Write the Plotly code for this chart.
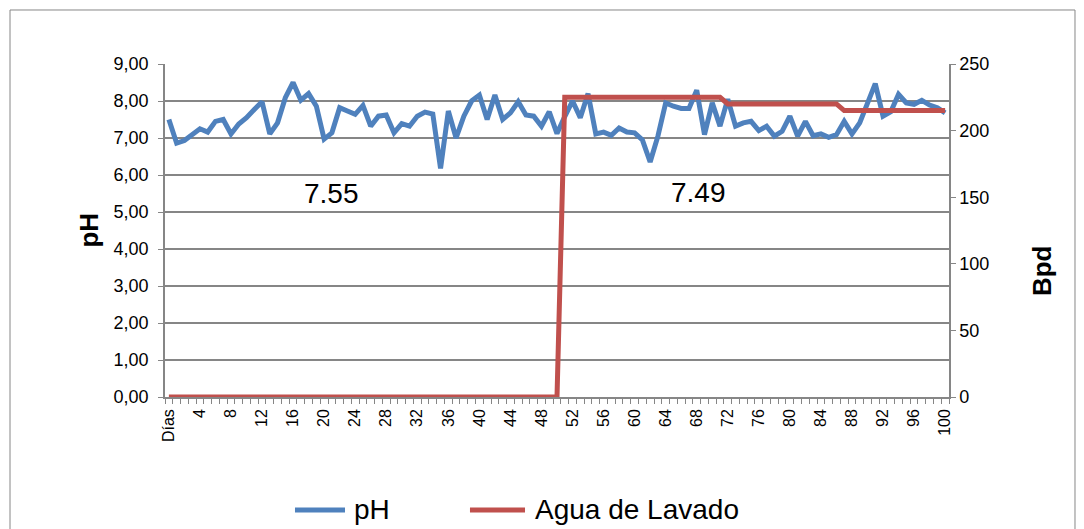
import plotly.graph_objects as go

categories = ["Días"] + [str(i) for i in range(1, 101)]

ph = [7.50, 6.86, 6.93, 7.11, 7.25, 7.16, 7.45, 7.50, 7.11, 7.38,
      7.55, 7.77, 7.98, 7.11, 7.41, 8.09, 8.50, 8.02, 8.20, 7.86,
      6.97, 7.14, 7.82, 7.73, 7.64, 7.88, 7.32, 7.59, 7.62, 7.14,
      7.39, 7.32, 7.59, 7.70, 7.65, 6.18, 7.73, 7.00, 7.59, 8.00,
      8.16, 7.50, 8.16, 7.50, 7.68, 7.98, 7.62, 7.59, 7.32, 7.71,
      7.12, 7.58, 8.00, 7.55, 8.20, 7.11, 7.16, 7.07, 7.27, 7.16,
      7.14, 6.95, 6.35, 7.05, 7.95, 7.86, 7.80, 7.80, 8.29, 7.09,
      7.95, 7.32, 8.05, 7.32, 7.41, 7.45, 7.20, 7.32, 7.05, 7.18,
      7.59, 7.05, 7.45, 7.06, 7.11, 7.02, 7.09, 7.45, 7.11, 7.41,
      7.91, 8.47, 7.59, 7.71, 8.18, 7.95, 7.91, 8.02, 7.89, 7.82,
      7.68]

agua = [0] * 51 + [225] * 21 + [220] * 15 + [215] * 14

series_names = ["pH", "Agua de Lavado"]
series_colors = ["#4F81BD", "#C0504D"]

tick_idx = list(range(0, 101, 4))
tick_text = [categories[i] for i in tick_idx]

avg_labels = ["7.55", "7.49"]
avg_pos_x = [21.0, 68.2]
avg_pos_y = [5.51, 5.54]

x = list(range(len(categories)))

grid_col = "#868686"
font_family = "Liberation Sans, Arial, sans-serif"

fig = go.Figure()
fig.add_trace(go.Scatter(x=x, y=ph, name=series_names[0], mode="lines",
                         line=dict(color=series_colors[0], width=5), yaxis="y"))
fig.add_trace(go.Scatter(x=x, y=agua, name=series_names[1], mode="lines",
                         line=dict(color=series_colors[1], width=5), yaxis="y2"))

for t, ax, ay in zip(avg_labels, avg_pos_x, avg_pos_y):
    fig.add_annotation(x=ax, y=ay, xref="x", yref="y", text=t, showarrow=False,
                       font=dict(size=28, color="black", family=font_family))

# axis titles
fig.add_annotation(x=-0.0982, y=0.5, xref="paper", yref="paper", text="<b>pH</b>",
                   textangle=-90, showarrow=False, xanchor="center", yanchor="middle",
                   font=dict(size=26, color="black", family=font_family))
fig.add_annotation(x=1.1186, y=0.381, xref="paper", yref="paper", text="<b>Bpd</b>",
                   textangle=-90, showarrow=False, xanchor="center", yanchor="middle",
                   font=dict(size=26, color="black", family=font_family))

# legend drawn manually (bottom)
leg_y = -0.3393
leg_items = [(0.1658, 0.2296, 0.2385), (0.3890, 0.4592, 0.4694)]
for name, col, (lx0, lx1, tx) in zip(series_names, series_colors, leg_items):
    fig.add_shape(type="line", xref="paper", yref="paper", x0=lx0, x1=lx1, y0=leg_y, y1=leg_y,
                  line=dict(color=col, width=5))
    fig.add_annotation(x=tx, y=leg_y, xref="paper", yref="paper", text=name,
                       showarrow=False, xanchor="left", yanchor="middle",
                       font=dict(size=28, color="black", family=font_family))

fig.update_layout(
    width=1084, height=529,
    margin=dict(l=157, r=143, t=56, b=140, autoexpand=False),
    paper_bgcolor="white", plot_bgcolor="white",
    separators=",.",
    font=dict(family=font_family, color="black", size=15),
    showlegend=False,
    xaxis=dict(range=[-0.5, 100.5], tickmode="array", tickvals=tick_idx, ticktext=tick_text,
               tickangle=-90, showgrid=False, zeroline=False,
               showline=True, linecolor=grid_col, linewidth=1.5,
               ticks="", tickfont=dict(size=16), ticklabelstandoff=4,
               minor=dict(ticks="outside", tickmode="linear", tick0=-0.5, dtick=1,
                          ticklen=5, tickcolor=grid_col, showgrid=False)),
    yaxis=dict(range=[0, 9], dtick=1, tickformat=".2f", showgrid=True,
               gridcolor=grid_col, gridwidth=1.5, zeroline=False,
               showline=True, linecolor=grid_col, linewidth=1.5,
               ticks="outside", ticklen=5, tickcolor=grid_col,
               tickfont=dict(size=18), ticklabelstandoff=6),
    yaxis2=dict(range=[0, 250], dtick=50, overlaying="y", side="right",
                showgrid=False, zeroline=False,
                showline=True, linecolor=grid_col, linewidth=1.5,
                ticks="outside", ticklen=5, tickcolor=grid_col,
                tickfont=dict(size=18)),
)

fig.add_shape(type="rect", xref="paper", yref="paper",
              x0=-0.1977, x1=1.1607, y0=-0.45, y1=1.1622,
              line=dict(color=grid_col, width=1), fillcolor="rgba(0,0,0,0)", layer="below")

fig.write_html("out.html")
